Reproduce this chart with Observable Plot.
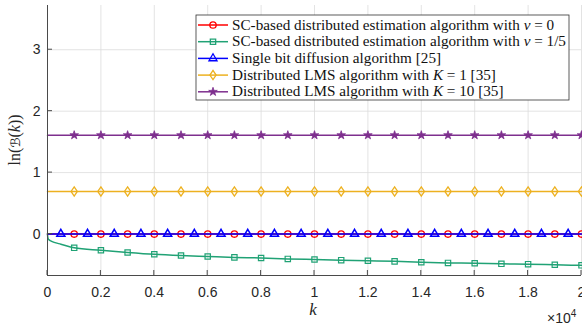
<!DOCTYPE html>
<html>
<head>
<meta charset="utf-8">
<script src="https://cdn.jsdelivr.net/npm/d3@7"></script>
<script src="https://cdn.jsdelivr.net/npm/@observablehq/plot@0.6"></script>
<style>
  html, body { margin: 0; padding: 0; background: #fff; }
  #chart { position: relative; width: 582px; height: 327px; overflow: hidden; }
  #chart svg { overflow: visible; }
</style>
</head>
<body>
<div id="chart"></div>
<script>
// ---------- data ----------
const xTicks = [0, 2000, 4000, 6000, 8000, 10000, 12000, 14000, 16000, 18000, 20000];
const xTickLabels = ["0", "0.2", "0.4", "0.6", "0.8", "1", "1.2", "1.4", "1.6", "1.8", "2"];
const yTicks = [0, 1, 2, 3];
const yTickLabels = ["0", "1", "2", "3"];

const lineK = [0, 20000];
const redY = [0, 0];            // SC-based, nu = 0
const blueY = [0, 0];           // Single bit diffusion
const yellowY = [0.693, 0.693]; // Distributed LMS K = 1
const purpleY = [1.609, 1.609]; // Distributed LMS K = 10

// SC-based, nu = 1/5 (green) curve
const greenK = [0, 10, 30, 60, 120, 250, 500, 1000, 2000, 3000, 4000, 5000, 6000, 7000, 8000, 9000, 10000,
  11000, 12000, 13000, 14000, 15000, 16000, 17000, 18000, 19000, 20000];
const greenY = [0, -0.05, -0.08, -0.095, -0.11, -0.135, -0.165, -0.225, -0.265, -0.30, -0.33, -0.35, -0.365,
  -0.38, -0.39, -0.405, -0.415, -0.425, -0.435, -0.445, -0.46, -0.47, -0.475, -0.485, -0.49, -0.50, -0.51];

// marker positions
const markK = [1000, 2000, 3000, 4000, 5000, 6000, 7000, 8000, 9000, 10000, 11000, 12000, 13000, 14000,
  15000, 16000, 17000, 18000, 19000, 20000];
const blueMarkK = [500, 1500, 2500, 3500, 4500, 5500, 6500, 7500, 8500, 9500, 10500, 11500, 12500, 13500,
  14500, 15500, 16500, 17500, 18500, 19500];

const seriesNames = [
  ["SC-based distributed estimation algorithm with ", "ν", " = 0"],
  ["SC-based distributed estimation algorithm with ", "ν", " = 1/5"],
  ["Single bit diffusion algorithm [25]", "", ""],
  ["Distributed LMS algorithm with ", "K", " = 1 [35]"],
  ["Distributed LMS algorithm with ", "K", " = 10 [35]"]
];
const colors = ["#ff0000", "#20a275", "#0000ff", "#edb120", "#7e2f8e"];

// ---------- helpers ----------
const diamond = {
  draw(ctx, size) {
    const s = Math.sqrt(size);
    const w = s * 0.42, h = s * 0.62;
    ctx.moveTo(0, -h); ctx.lineTo(w, 0); ctx.lineTo(0, h); ctx.lineTo(-w, 0); ctx.closePath();
  }
};
const toRows = (ks, ys) => ks.map((k, i) => ({k, v: ys[i]}));
const constRows = (ks, v) => ks.map(k => ({k, v}));
const greenAt = k => greenY[greenK.indexOf(k)];

const symR = [3.2, 3.0, 3.0, 4.2, 2.7];
const W = 582, H = 327;
const plot = Plot.plot({
  width: W, height: H,
  marginLeft: 47, marginRight: 1, marginTop: 5, marginBottom: 52,
  style: {background: "transparent", fontFamily: "'Liberation Sans', Arial, sans-serif", fontSize: "14px", color: "#262626"},
  x: {domain: [0, 20000]},
  y: {domain: [-0.675, 3.72]},
  marks: [
    Plot.gridX(xTicks, {stroke: "#dcdcdc", strokeOpacity: 1, strokeWidth: 0.8}),
    Plot.gridY(yTicks, {stroke: "#dcdcdc", strokeOpacity: 1, strokeWidth: 0.8}),
    Plot.axisX(xTicks, {tickSize: 0, tickPadding: 12, tickFormat: (d, i) => xTickLabels[i], label: null, fontSize: 14}),
    Plot.axisY(yTicks, {tickSize: 0, tickPadding: 7, tickFormat: (d, i) => yTickLabels[i], label: null, fontSize: 14}),
    // series 1: red
    Plot.line(toRows(lineK, redY), {x: "k", y: "v", stroke: colors[0], strokeWidth: 1.5}),
    Plot.dot(constRows(markK, redY[0]), {x: "k", y: "v", symbol: "circle", r: symR[0], stroke: colors[0], strokeWidth: 1.3, fill: "none"}),
    // series 2: green
    Plot.line(toRows(greenK, greenY), {x: "k", y: "v", stroke: colors[1], strokeWidth: 1.5, curve: "monotone-x"}),
    Plot.dot(markK.map(k => ({k, v: greenAt(k)})), {x: "k", y: "v", symbol: "square", r: symR[1], stroke: colors[1], strokeWidth: 1.2, fill: "none"}),
    // series 3: blue
    Plot.line(toRows(lineK, blueY), {x: "k", y: "v", stroke: colors[2], strokeWidth: 1.5}),
    Plot.dot(constRows(blueMarkK, blueY[0]), {x: "k", y: "v", symbol: "triangle", r: symR[2], stroke: colors[2], strokeWidth: 1.5, fill: "none"}),
    // series 4: yellow
    Plot.line(toRows(lineK, yellowY), {x: "k", y: "v", stroke: colors[3], strokeWidth: 1.5}),
    Plot.dot(constRows(markK, yellowY[0]), {x: "k", y: "v", symbol: diamond, r: symR[3], stroke: colors[3], strokeWidth: 1.3, fill: "none"}),
    // series 5: purple
    Plot.line(toRows(lineK, purpleY), {x: "k", y: "v", stroke: colors[4], strokeWidth: 1.5}),
    Plot.dot(constRows(markK, purpleY[0]), {x: "k", y: "v", symbol: "star", r: symR[4], stroke: colors[4], strokeWidth: 0.8, fill: colors[4]}),
    Plot.ruleX([0], {stroke: "#4a4a4a", strokeWidth: 1}),
    Plot.ruleY([-0.675], {stroke: "#4a4a4a", strokeWidth: 1})
  ]
});
document.getElementById("chart").appendChild(plot);

// ---------- inward tick marks via the plot's scales ----------
const sx = plot.scale("x"), sy = plot.scale("y");
const svg = d3.select(plot);
const x0 = sx.apply(0), yb = sy.apply(-0.675);
const tg = svg.append("g").attr("stroke", "#4a4a4a").attr("stroke-width", 1);
xTicks.forEach(t => tg.append("line").attr("x1", sx.apply(t)).attr("x2", sx.apply(t)).attr("y1", yb).attr("y2", yb - 5));
yTicks.forEach(t => tg.append("line").attr("x1", x0).attr("x2", x0 + 5).attr("y1", sy.apply(t)).attr("y2", sy.apply(t)));

// ---------- axis titles ----------
const serif = "'Liberation Serif', 'Times New Roman', serif";
const yl = svg.append("text").attr("transform", "translate(20,140) rotate(-90)")
  .attr("text-anchor", "middle").attr("font-family", serif).attr("font-size", 16).attr("fill", "#262626");
yl.append("tspan").text("ln(");
yl.append("tspan").attr("font-family", "'DejaVu Sans', serif").attr("font-size", 13).text("ℬ");
yl.append("tspan").text("(");
yl.append("tspan").attr("font-style", "italic").text("k");
yl.append("tspan").text("))");

svg.append("text").attr("x", 313).attr("y", 315).attr("text-anchor", "middle")
  .attr("font-family", serif).attr("font-style", "italic").attr("font-size", 17).attr("fill", "#262626").text("k");

const ex = svg.append("text").attr("x", 547).attr("y", 323).attr("text-anchor", "start")
  .attr("font-family", "'Liberation Sans', Arial, sans-serif").attr("font-size", 14).attr("fill", "#262626");
ex.append("tspan").text("×10");
ex.append("tspan").attr("dy", -6).attr("font-size", 10).text("4");

// ---------- legend ----------
const lg = svg.append("g");
const lx = 196, ly = 15, lw = 373, lh = 85;
lg.append("rect").attr("x", lx).attr("y", ly).attr("width", lw).attr("height", lh)
  .attr("fill", "#fff").attr("stroke", "#333").attr("stroke-width", 0.8);
const syms = [d3.symbolCircle, d3.symbolSquare, d3.symbolTriangle, diamond, d3.symbolStar];
const texts = [];
seriesNames.forEach((parts, i) => {
  const cy = 25 + i * 16.7;
  lg.append("line").attr("x1", 198).attr("x2", 228).attr("y1", cy).attr("y2", cy)
    .attr("stroke", colors[i]).attr("stroke-width", 1.5);
  const path = d3.symbol(syms[i], symR[i] * symR[i] * Math.PI)();
  lg.append("path").attr("d", path).attr("transform", `translate(213,${cy})`)
    .attr("fill", i === 4 ? colors[i] : "none").attr("stroke", colors[i]).attr("stroke-width", i === 4 ? 0.8 : 1.3);
  const t = lg.append("text").attr("x", 0).attr("y", 0).attr("text-anchor", "start")
    .attr("transform", `translate(232,${cy + 4.5})`)
    .attr("font-family", serif).attr("font-size", 14).attr("fill", "#111");
  t.append("tspan").text(parts[0]);
  if (parts[1]) t.append("tspan").attr("font-style", "italic").text(parts[1]);
  if (parts[2]) t.append("tspan").text(parts[2]);
  texts.push({t, cy});
});
// widen the serif text horizontally so the longest entry spans the box as in the reference
const longest = texts[1].t.node().getComputedTextLength();
const k = Math.min(1.35, Math.max(0.8, 334 / longest));
texts.forEach(({t, cy}) => t.attr("transform", `translate(232,${cy + 4.5}) scale(${k},1)`));
</script>
</body>
</html>
